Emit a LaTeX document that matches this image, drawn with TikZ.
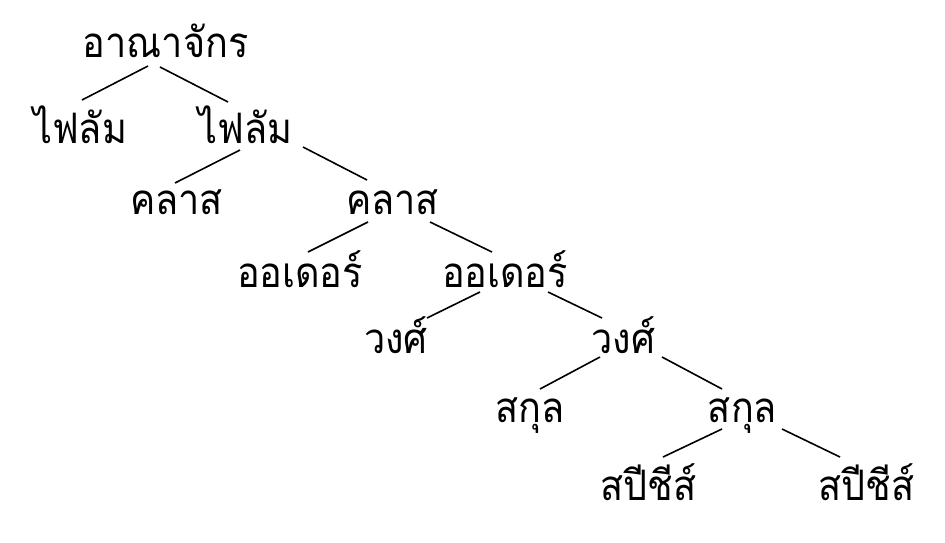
\documentclass[tikz,border=0pt]{standalone}
\usepackage{fontspec}
\newfontfamily\thaifont[Script=Thai,FakeStretch=0.9]{Loma}
\begin{document}
\begin{tikzpicture}[x=1pt,y=-1pt,
  word/.style={anchor=base,inner sep=0pt,font=\thaifont\fontsize{42}{44}\selectfont},
  edge/.style={line width=1.6pt,black}]
\useasboundingbox[fill=white] (0,0) rectangle (945,542);
\node[word] (root) at (165.5,57) {อาณาจักร};
\node[word] (f1) at (80,143) {ไฟลัม};
\node[word] (f2) at (245.5,143) {ไฟลัม};
\node[word] (c1) at (176.5,214) {คลาส};
\node[word] (c2) at (392.5,214) {คลาส};
\node[word] (o1) at (300,287) {ออเดอร์};
\node[word] (o2) at (505,287) {ออเดอร์};
\node[word] (w1) at (396,353) {วงศ์};
\node[word] (w2) at (623.5,353) {วงศ์};
\node[word] (k1) at (530,422) {สกุล};
\node[word] (k2) at (742.5,422) {สกุล};
\node[word] (s1) at (648.5,500) {สปีชีส์};
\node[word] (s2) at (866.5,500) {สปีชีส์};
\draw[edge] ([shift={(-17.5,9)}]root.base) -- ([shift={(2,-43)}]f1.base);
\draw[edge] ([shift={(-5.5,10)}]root.base) -- ([shift={(-17.5,-41)}]f2.base);
\draw[edge] ([shift={(-5.5,7)}]f2.base) -- ([shift={(-1.5,-31)}]c1.base);
\draw[edge] ([shift={(57.5,4)}]f2.base) -- ([shift={(-25.5,-34)}]c2.base);
\draw[edge] ([shift={(-24.5,8)}]c2.base) -- ([shift={(8,-35)}]o1.base);
\draw[edge] ([shift={(37.5,8)}]c2.base) -- ([shift={(-13,-35)}]o2.base);
\draw[edge] ([shift={(-25,5)}]o2.base) -- ([shift={(31,-35)}]w1.base);
\draw[edge] ([shift={(43,5)}]o2.base) -- ([shift={(-21.5,-35)}]w2.base);
\draw[edge] ([shift={(-23.5,4)}]w2.base) -- ([shift={(10,-33)}]k1.base);
\draw[edge] ([shift={(38.5,4)}]w2.base) -- ([shift={(-20.5,-33)}]k2.base);
\draw[edge] ([shift={(-20.5,7)}]k2.base) -- ([shift={(14.5,-43)}]s1.base);
\draw[edge] ([shift={(39.5,7)}]k2.base) -- ([shift={(-26.5,-43)}]s2.base);
\end{tikzpicture}
\end{document}
